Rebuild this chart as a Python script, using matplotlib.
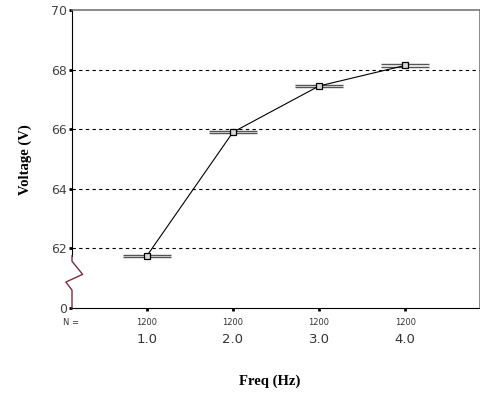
import matplotlib
matplotlib.use('Agg')
import matplotlib.pyplot as plt
import matplotlib.transforms as mtransforms

# data
freq = [1.0, 2.0, 3.0, 4.0]
voltage = [61.75, 65.90, 67.45, 68.14]
voltage_err = [0.04, 0.03, 0.05, 0.05]
n_counts = ['1200', '1200', '1200', '1200']
freq_labels = ['1.0', '2.0', '3.0', '4.0']
y_ticks = [60, 62, 64, 66, 68, 70]
y_tick_labels = ['0', '62', '64', '66', '68', '70']
grid_levels = [62, 64, 66, 68]

fig = plt.figure(figsize=(4.81, 3.98), dpi=100)
ax = fig.add_axes([72 / 481, 1 - 308 / 398, 408 / 481, 298 / 398])

ax.set_xlim(0.13, 4.87)
ax.set_ylim(60, 70)

# dashed reference lines
for g in grid_levels:
    ax.axhline(g, color='black', linestyle=(0, (3, 3)), linewidth=0.8, zorder=1)

# error caps + connecting line + markers
ax.errorbar(freq, voltage, yerr=voltage_err, fmt='none', ecolor='#555555',
            elinewidth=1.0, capsize=17, capthick=1.0, zorder=2)
ax.plot(freq, voltage, color='black', linewidth=0.8, zorder=3)
ax.plot(freq, voltage, linestyle='none', marker='s', markersize=5,
        markerfacecolor='#d8d8d8', markeredgecolor='black',
        markeredgewidth=0.9, zorder=4)

# spines
ax.spines['top'].set_color('#777777')
ax.spines['right'].set_color('#777777')
ax.spines['top'].set_linewidth(1.2)
ax.spines['right'].set_linewidth(1.2)
ax.spines['bottom'].set_color('black')
ax.spines['left'].set_color('black')
ax.spines['left'].set_bounds(61.75, 70)

# axis break drawn on the left side
brk = mtransforms.blended_transform_factory(ax.transAxes, ax.transData)
bx = [0, 0, 0.026, -0.015, 0, 0]
by = [61.75, 61.57, 61.13, 60.87, 60.6, 60.0]
ax.plot(bx, by, color='#7a2e3e', linewidth=1.0, transform=brk, clip_on=False,
        zorder=5)

# ticks
ax.set_yticks(y_ticks)
ax.set_yticklabels(y_tick_labels, fontsize=9, color='#444444',
                   family='DejaVu Sans')
ax.tick_params(axis='y', length=2.5, width=2, pad=1)
ax.set_xticks(freq)
ax.set_xticklabels([])
ax.tick_params(axis='x', length=2, width=2, direction='out')

# N row and category labels under the axis
lab = mtransforms.blended_transform_factory(ax.transData, ax.transAxes)
for x, n, f in zip(freq, n_counts, freq_labels):
    ax.text(x, -0.047, n, transform=lab, ha='center', va='center',
            fontsize=6, color='#333333')
    ax.text(x, -0.107, f, transform=lab, ha='center', va='center',
            fontsize=9.5, color='#333333')
ax.text(-0.003, -0.047, 'N =', transform=ax.transAxes, ha='center',
        va='center', fontsize=6, color='#333333')

fig.text(270 / 481, 1 - 381 / 398, 'Freq (Hz)', ha='center', va='center',
         fontsize=10.5, fontweight='bold', family='Liberation Serif')
fig.text(25 / 481, 1 - 160 / 398, 'Voltage (V)', ha='center', va='center',
         rotation=90, fontsize=10.5, fontweight='bold',
         family='Liberation Serif')

fig.savefig('out.png', dpi=100)
